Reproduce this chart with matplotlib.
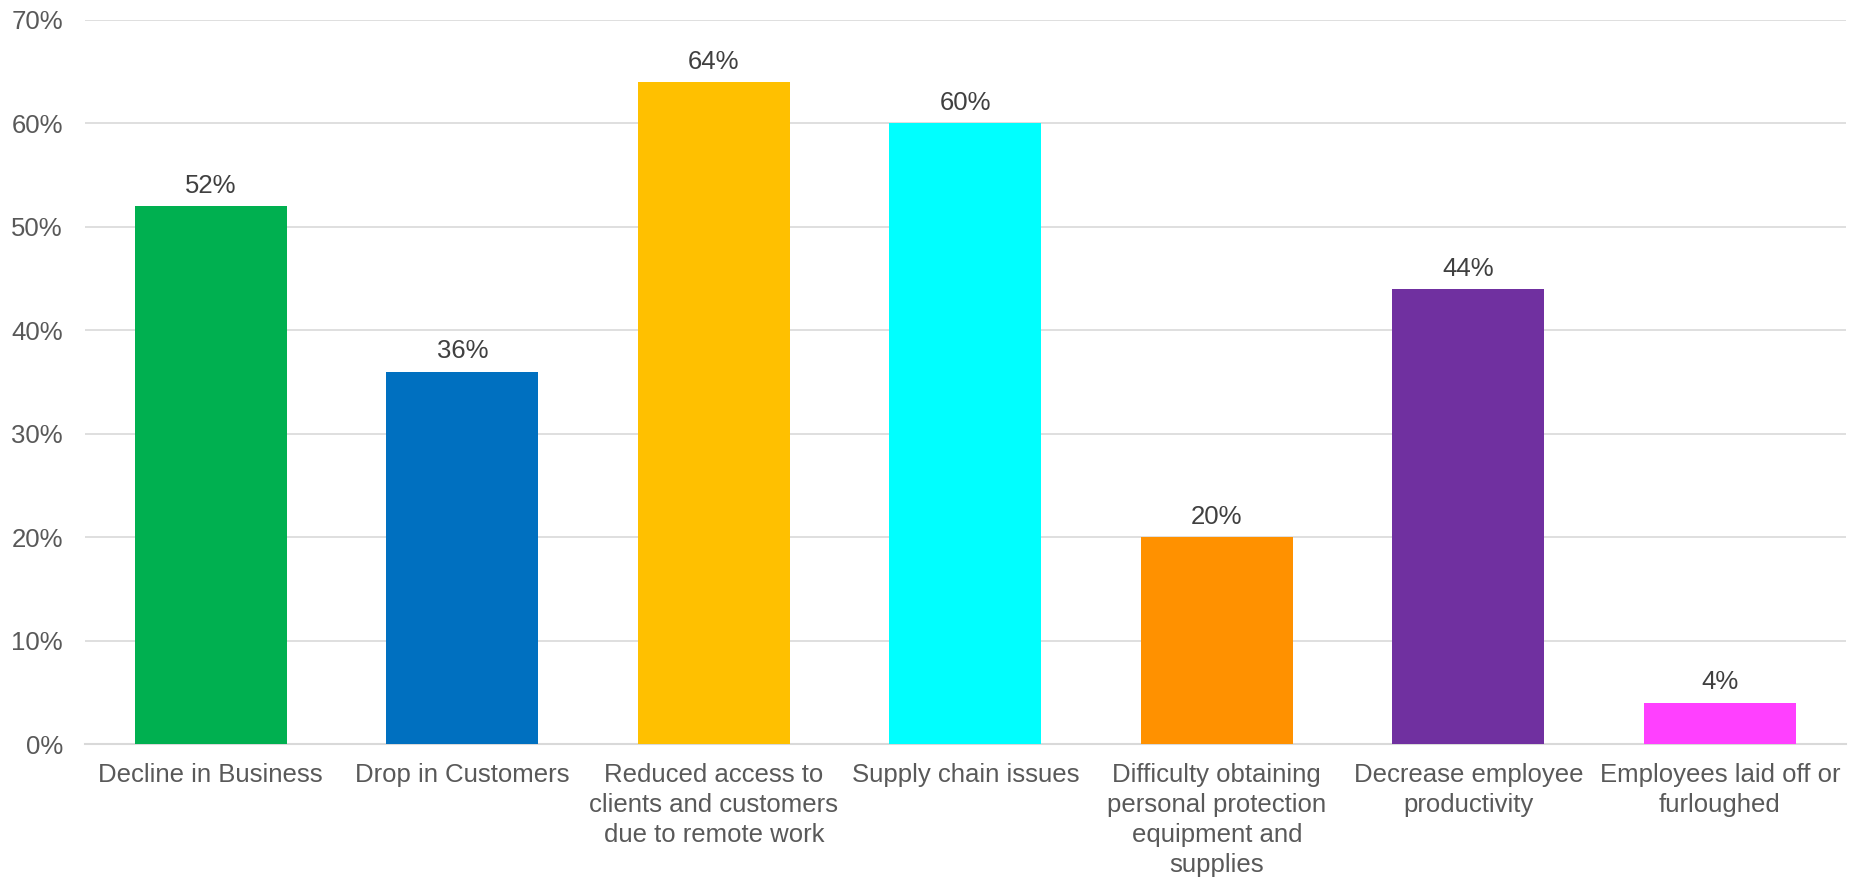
import matplotlib
matplotlib.use("Agg")
import matplotlib.pyplot as plt
from matplotlib.ticker import PercentFormatter

# Datos del gráfico
categorias = [
    "Decline in Business",
    "Drop in Customers",
    "Reduced access to\nclients and customers\ndue to remote work",
    "Supply chain issues",
    "Difficulty obtaining\npersonal protection\nequipment and\nsupplies",
    "Decrease employee\nproductivity",
    "Employees laid off or\nfurloughed",
]
porcentajes = [52, 36, 64, 60, 20, 44, 4]
colores = ["#00B050", "#0070C0", "#FFC000", "#00FFFF", "#FF9100", "#7030A0", "#FF40FF"]

plt.rcParams["font.family"] = ["Liberation Sans", "DejaVu Sans"]
texto = "#595959"

fig = plt.figure(figsize=(18.64, 8.8), dpi=100)
ax = fig.add_axes([0.0456, 0.1545, 0.9445, 0.8228])

x = range(len(categorias))
barras = ax.bar(x, porcentajes, width=0.605, color=colores, zorder=3)

for b, v in zip(barras, porcentajes):
    ax.annotate(f"{v}%", (b.get_x() + b.get_width() / 2, v),
                xytext=(0, 6), textcoords="offset points",
                ha="center", va="bottom", fontsize=18.5, color="#404040")

ax.set_xlim(-0.5, len(categorias) - 0.5)
ax.set_ylim(0, 70)
ax.set_yticks(range(0, 71, 10))
ax.yaxis.set_major_formatter(PercentFormatter(decimals=0))
ax.set_xticks(list(x))
ax.set_xticklabels(categorias, linespacing=1.3)

ax.grid(axis="y", color="#D9D9D9", linewidth=1.2, zorder=0)
for s in ["top", "right", "left"]:
    ax.spines[s].set_visible(False)
ax.spines["bottom"].set_color("#D9D9D9")
ax.spines["bottom"].set_linewidth(1.5)
ax.tick_params(axis="both", length=0, labelsize=18.5, labelcolor=texto)
ax.tick_params(axis="x", pad=14)
ax.tick_params(axis="y", pad=16)

fig.savefig("out.png", dpi=100)
plt.close(fig)
